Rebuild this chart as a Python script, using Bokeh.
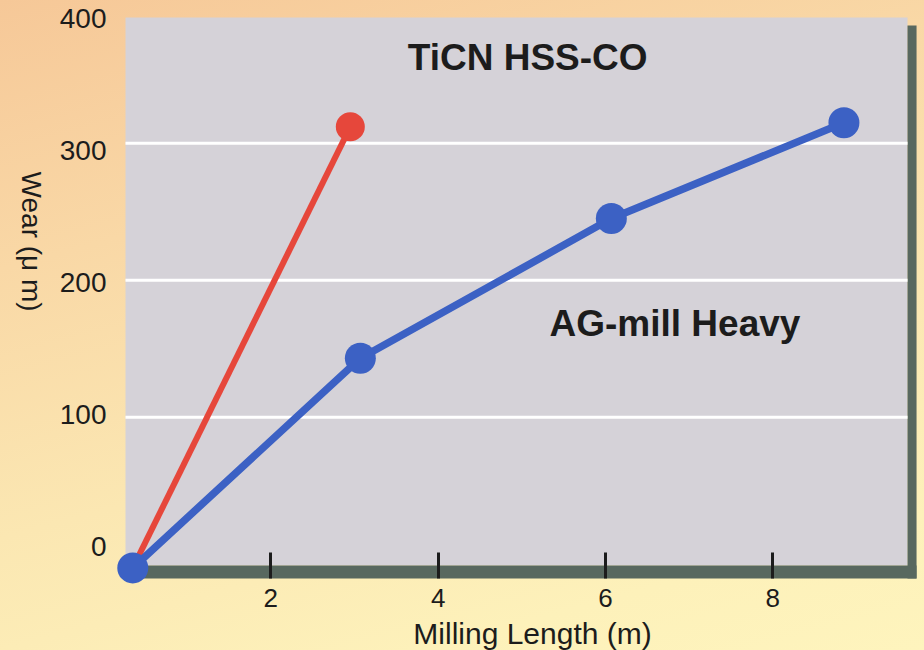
from bokeh.plotting import figure
from bokeh.models import Range1d, LinearAxis, FixedTicker, BoxAnnotation, Label
from bokeh.embed import file_html
from bokeh.resources import INLINE

# ---- data ----
milling_red = [0.35, 2.95]
wear_red = [-10, 312]
milling_blue = [0.35, 3.07, 6.07, 8.85]
wear_blue = [-10, 143, 245, 315]
x_ticks = [2, 4, 6, 8]
y_ticks = [0, 100, 200, 300, 400]
grid_ticks = [100, 200, 300]
series_names = ["TiCN HSS-CO", "AG-mill Heavy"]
name_x = [5.07, 6.83]
name_y = [362.9, 168.4]
x_title = "Milling Length (m)"
y_title = "Wear (\u03bc m)"

# ---- decoration geometry (panel, shadow border, title anchors) ----
PANEL_L, PANEL_R, PANEL_T, PANEL_B = 0.263, 9.61, 391.8, -8.25
SHADOW_R, SHADOW_T, SHADOW_B = 9.718, 385.9, -17.7
XTITLE_POS = (5.128, -57.9)
YTITLE_POS = (-0.861, 228.2)

RED = "#e6473b"
BLUE = "#3c61c4"
PANEL = "#d5d2d8"
SHADOW = "#58685f"
INK = "#1c1c1c"
FONT = "Liberation Sans"

p = figure(width=924, height=650, output_backend="svg", toolbar_location=None,
           x_range=Range1d(-1.231, 9.813), y_range=Range1d(-70.3, 404.2),
           x_axis_location=None, y_axis_location=None,
           min_border_left=0, min_border_right=0, min_border_top=0, min_border_bottom=0,
           background_fill_color=None, border_fill_color=None, outline_line_color=None)
p.styles = {"background": "linear-gradient(165deg, #f6c898 0%, #f9d8a6 30%, #fbe7b2 60%, #fdf1ba 85%, #fef4bd 100%)"}
for g in p.grid:
    g.visible = False

# plotting panel and its shadow border
p.add_layout(BoxAnnotation(left=PANEL_L, right=PANEL_R, top=PANEL_T, bottom=PANEL_B,
                           fill_color=PANEL, fill_alpha=1, line_color=None, level="underlay"))
p.add_layout(BoxAnnotation(left=PANEL_R, right=SHADOW_R, top=SHADOW_T, bottom=SHADOW_B,
                           fill_color=SHADOW, fill_alpha=1, line_color=None, level="underlay"))
p.add_layout(BoxAnnotation(left=PANEL_L, right=SHADOW_R, top=PANEL_B, bottom=SHADOW_B,
                           fill_color=SHADOW, fill_alpha=1, line_color=None, level="underlay"))

# horizontal grid lines across the panel
p.segment(x0=[PANEL_L] * len(grid_ticks), x1=[PANEL_R] * len(grid_ticks),
          y0=grid_ticks, y1=grid_ticks, line_color="white", line_width=3)

# y axis labels
p.extra_y_ranges = {"lab": Range1d(-78.4, 413.6)}
yaxis = LinearAxis(y_range_name="lab", ticker=FixedTicker(ticks=y_ticks), fixed_location=PANEL_L)
yaxis.axis_line_color = None
yaxis.major_tick_line_color = None
yaxis.minor_tick_line_color = None
yaxis.major_label_standoff = 13
yaxis.major_label_text_font = FONT
yaxis.major_label_text_font_size = "28px"
yaxis.major_label_text_color = INK
p.add_layout(yaxis, "left")

# x axis
xa = LinearAxis(ticker=FixedTicker(ticks=x_ticks), fixed_location=SHADOW_B)
xa.axis_line_color = None
xa.major_tick_in = 26
xa.major_tick_out = 0
xa.major_tick_line_width = 3
xa.major_tick_line_color = INK
xa.minor_tick_line_color = None
xa.major_label_standoff = 11
xa.major_label_text_font = FONT
xa.major_label_text_font_size = "26px"
xa.major_label_text_color = INK
p.add_layout(xa, "below")

# series
p.line(milling_red, wear_red, line_color=RED, line_width=6)
p.scatter(milling_red, wear_red, size=29, fill_color=RED, line_color=None)
p.line(milling_blue, wear_blue, line_color=BLUE, line_width=7.5)
p.scatter(milling_blue, wear_blue, size=31, fill_color=BLUE, line_color=None)

# series names
for name, nx, ny in zip(series_names, name_x, name_y):
    p.add_layout(Label(x=nx, y=ny, text=name, text_font=FONT, text_font_style="bold",
                       text_font_size="37px", text_align="center", text_baseline="alphabetic",
                       text_color=INK))

# axis titles
p.add_layout(Label(x=XTITLE_POS[0], y=XTITLE_POS[1], text=x_title, text_font=FONT,
                   text_font_size="30px", text_align="center", text_baseline="alphabetic",
                   text_color=INK))
p.add_layout(Label(x=YTITLE_POS[0], y=YTITLE_POS[1], text=y_title, text_font=FONT,
                   text_font_size="28px", angle=-90, angle_units="deg", text_align="center",
                   text_baseline="middle", text_color=INK))

open("out.html", "w").write(file_html(p, INLINE))
